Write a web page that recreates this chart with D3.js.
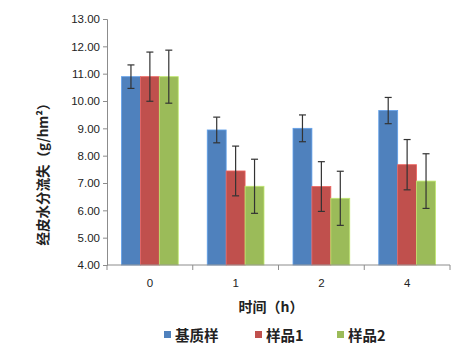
<!DOCTYPE html>
<html><head><meta charset="utf-8">
<script src="https://cdn.jsdelivr.net/npm/d3@7"></script>
<style>body{margin:0;background:#fff}svg{display:block}</style>
</head><body>
<svg id="c" width="465" height="352"></svg>
<script>
const categories = ["0","1","2","4"];
const seriesNames = ["基质样","样品1","样品2"];
const seriesColors = ["#4F81BD","#C0504D","#9BBB59"];
const values = [
  [10.89, 8.94, 9.00, 9.65],
  [10.89, 7.44, 6.87, 7.67],
  [10.89, 6.88, 6.44, 7.07]
];
const errors = [
  [0.43, 0.47, 0.49, 0.48],
  [0.90, 0.91, 0.91, 0.92],
  [0.97, 0.99, 0.99, 1.00]
];
const yTicks = [4,5,6,7,8,9,10,11,12,13];

const svg = d3.select("#c");
const x0 = d3.scaleBand().domain(categories).range([107,450]).paddingInner(0).paddingOuter(0);
const x1 = d3.scaleBand().domain(d3.range(seriesNames.length)).range([14.5, x0.bandwidth()-14.5]);
const y = d3.scaleLinear().domain([4,13]).range([265,19]);

const axisColor = "#8c8c8c";
// y axis
const ya = svg.append("g").attr("transform","translate(107,0)")
  .call(d3.axisLeft(y).tickValues(yTicks).tickSize(4).tickFormat(d3.format(".2f")));
ya.selectAll("path,line").attr("stroke",axisColor);
ya.selectAll("text").attr("font-family","Liberation Sans, Arial, sans-serif").attr("font-size",11.5).attr("fill","#222").attr("x",-7);

// bars
const g = svg.append("g");
seriesNames.forEach((s,si)=>{
  categories.forEach((c,ci)=>{
    const v = values[si][ci];
    const bx = x0(c)+x1(si);
    g.append("rect").attr("x",bx).attr("y",y(v)).attr("width",x1.bandwidth()).attr("height",y(4)-y(v))
      .attr("fill",seriesColors[si]).attr("stroke",d3.color(seriesColors[si]).brighter(0.6)).attr("stroke-width",0.8);
  });
});
// error bars
seriesNames.forEach((s,si)=>{
  categories.forEach((c,ci)=>{
    const v = values[si][ci], e = errors[si][ci];
    const cx = x0(c)+x1(si)+x1.bandwidth()/2;
    const eg = g.append("g").attr("stroke","#333").attr("stroke-width",1.2);
    eg.append("line").attr("x1",cx).attr("x2",cx).attr("y1",y(v+e)).attr("y2",y(v-e));
    eg.append("line").attr("x1",cx-3.5).attr("x2",cx+3.5).attr("y1",y(v+e)).attr("y2",y(v+e));
    eg.append("line").attr("x1",cx-3.5).attr("x2",cx+3.5).attr("y1",y(v-e)).attr("y2",y(v-e));
  });
});

// x axis
const xa = svg.append("g").attr("transform","translate(0,265)");
xa.append("line").attr("x1",107).attr("x2",450).attr("stroke",axisColor);
const bounds = categories.map(c=>x0(c)).concat([450]);
xa.selectAll("line.t").data(bounds).enter().append("line").attr("class","t")
  .attr("x1",d=>d).attr("x2",d=>d).attr("y1",0).attr("y2",5).attr("stroke",axisColor);
xa.selectAll("text").data(categories).enter().append("text")
  .attr("x",d=>x0(d)+x0.bandwidth()/2).attr("y",22).attr("text-anchor","middle")
  .attr("font-family","Liberation Sans, Arial, sans-serif").attr("font-size",11.5).attr("fill","#222").text(d=>d);

// titles
svg.append("text").attr("x",271).attr("y",312).attr("text-anchor","middle")
  .attr("font-family","Noto Sans CJK SC, sans-serif").attr("font-weight","bold").attr("font-size",14).attr("fill","#222").text("时间（h）");
svg.append("text").attr("transform","translate(48,171) rotate(-90)").attr("text-anchor","middle")
  .attr("font-family","Noto Sans CJK SC, sans-serif").attr("font-weight","bold").attr("font-size",13.5).attr("fill","#222").text("经皮水分流失（g/hm²）");

// legend
const legX = [164, 255, 337];
const lg = svg.append("g");
seriesNames.forEach((s,i)=>{
  lg.append("rect").attr("x",legX[i]).attr("y",331).attr("width",7).attr("height",7).attr("fill",seriesColors[i]);
  lg.append("text").attr("x",legX[i]+11).attr("y",340.5).attr("font-family","Noto Sans CJK SC, sans-serif")
    .attr("font-weight","bold").attr("font-size",14.5).attr("fill","#222").text(s);
});
</script>
</body></html>
